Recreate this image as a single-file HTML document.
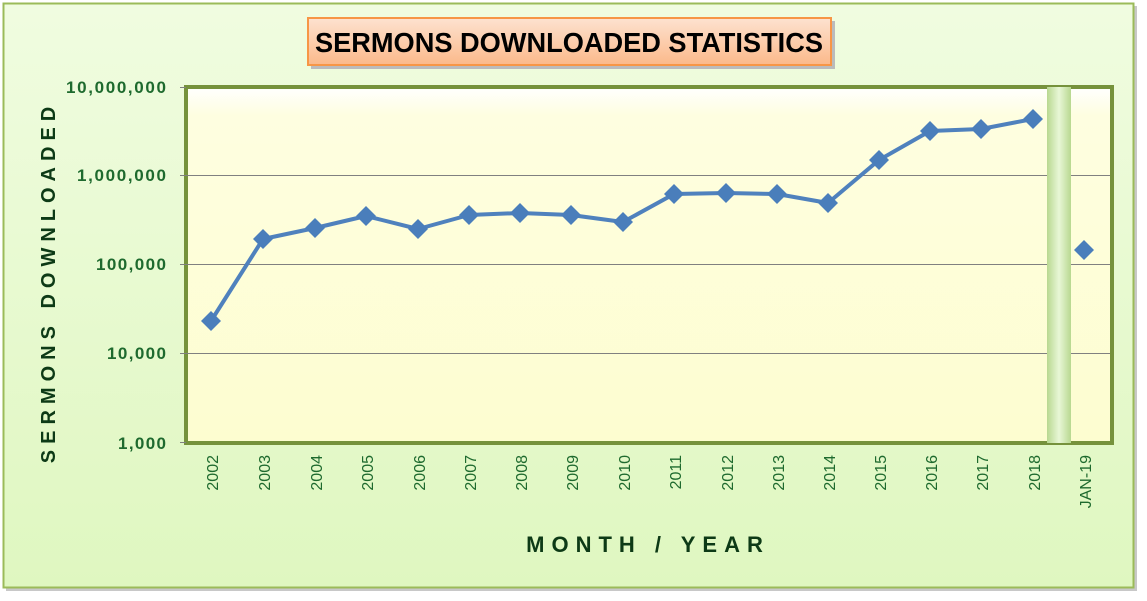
<!DOCTYPE html>
<html><head><style>
body{margin:0;width:1147px;height:596px;background:#fff;overflow:hidden;font-family:"Liberation Sans",sans-serif}
</style></head><body>
<svg width="1147" height="596" xmlns="http://www.w3.org/2000/svg">
<defs>
<linearGradient id="bg" x1="0" y1="0" x2="0" y2="1"><stop offset="0" stop-color="#f0fce0"/><stop offset="1" stop-color="#dff7c0"/></linearGradient>
<linearGradient id="pl" x1="0" y1="0" x2="0" y2="1"><stop offset="0" stop-color="#ffffff"/><stop offset="0.08" stop-color="#fefee0"/><stop offset="1" stop-color="#fdfdd0"/></linearGradient>
<linearGradient id="tt" x1="0" y1="0" x2="0" y2="1"><stop offset="0" stop-color="#fde2d0"/><stop offset="1" stop-color="#fbb98a"/></linearGradient>
<linearGradient id="sep" x1="0" y1="0" x2="1" y2="0"><stop offset="0" stop-color="#b8d890"/><stop offset="0.5" stop-color="#e8f7d6"/><stop offset="1" stop-color="#b8d890"/></linearGradient>
</defs>
<rect x="6" y="6" width="1131" height="585" fill="#c8c8c8"/>
<rect x="3.5" y="3.5" width="1130" height="584" fill="url(#bg)" stroke="#9bbb59" stroke-width="2"/>
<rect x="186" y="87" width="926" height="356" fill="url(#pl)" stroke="#76923c" stroke-width="4"/>
<g stroke="#808080" stroke-width="1">
<line x1="180" y1="175.5" x2="1110" y2="175.5"/><line x1="180" y1="264.5" x2="1110" y2="264.5"/><line x1="180" y1="353.5" x2="1110" y2="353.5"/>
<line x1="180" y1="87.5" x2="186" y2="87.5"/><line x1="180" y1="442.5" x2="186" y2="442.5"/>
</g>
<rect x="1047" y="87" width="24" height="356" fill="url(#sep)"/>
<g font-size="17" font-weight="bold" fill="#1e6a2e" text-anchor="end">
<text x="166" y="93" textLength="100">10,000,000</text><text x="166" y="181" textLength="89">1,000,000</text><text x="166" y="270" textLength="70">100,000</text><text x="166" y="359" textLength="59">10,000</text><text x="166" y="449" textLength="48">1,000</text>
</g>
<polyline fill="none" stroke="#4f81bd" stroke-width="4" stroke-linejoin="round" points="211,321 263,239 315,228 366,216 418,229 469,215 520,213 571,215 623,222 674,194 726,193 777,194 828,203 879,160 930,131 981,129 1033,119"/>
<g fill="#4a7ebb">
<path d="M211 311l10 10-10 10-10-10z"/><path d="M263 229l10 10-10 10-10-10z"/><path d="M315 218l10 10-10 10-10-10z"/><path d="M366 206l10 10-10 10-10-10z"/><path d="M418 219l10 10-10 10-10-10z"/><path d="M469 205l10 10-10 10-10-10z"/><path d="M520 203l10 10-10 10-10-10z"/><path d="M571 205l10 10-10 10-10-10z"/><path d="M623 212l10 10-10 10-10-10z"/><path d="M674 184l10 10-10 10-10-10z"/><path d="M726 183l10 10-10 10-10-10z"/><path d="M777 184l10 10-10 10-10-10z"/><path d="M828 193l10 10-10 10-10-10z"/><path d="M879 150l10 10-10 10-10-10z"/><path d="M930 121l10 10-10 10-10-10z"/><path d="M981 119l10 10-10 10-10-10z"/><path d="M1033 109l10 10-10 10-10-10z"/><path d="M1084 240l10 10-10 10-10-10z"/>
</g>
<g font-size="16" fill="#1e6a2e" text-anchor="end">
<text transform="translate(218,455) rotate(-90)">2002</text><text transform="translate(270,455) rotate(-90)">2003</text><text transform="translate(322,455) rotate(-90)">2004</text><text transform="translate(373,455) rotate(-90)">2005</text><text transform="translate(425,455) rotate(-90)">2006</text><text transform="translate(476,455) rotate(-90)">2007</text><text transform="translate(527,455) rotate(-90)">2008</text><text transform="translate(578,455) rotate(-90)">2009</text><text transform="translate(630,455) rotate(-90)">2010</text><text transform="translate(681,455) rotate(-90)">2011</text><text transform="translate(733,455) rotate(-90)">2012</text><text transform="translate(784,455) rotate(-90)">2013</text><text transform="translate(835,455) rotate(-90)">2014</text><text transform="translate(886,455) rotate(-90)">2015</text><text transform="translate(937,455) rotate(-90)">2016</text><text transform="translate(988,455) rotate(-90)">2017</text><text transform="translate(1040,455) rotate(-90)">2018</text><text transform="translate(1091,455) rotate(-90)">JAN-19</text>
</g>
<rect x="311" y="21" width="524" height="48" fill="#bbb"/>
<rect x="308" y="18" width="523" height="47" fill="url(#tt)" stroke="#f79646" stroke-width="2"/>
<text x="569" y="52" font-size="28" font-weight="bold" text-anchor="middle" fill="#000" textLength="508" lengthAdjust="spacingAndGlyphs">SERMONS DOWNLOADED STATISTICS</text>
<text transform="translate(55,282) rotate(-90)" font-size="20" font-weight="bold" letter-spacing="6" text-anchor="middle" fill="#0d3a16">SERMONS DOWNLOADED</text>
<text x="648" y="552" font-size="22" font-weight="bold" letter-spacing="7" text-anchor="middle" fill="#0d3a16">MONTH / YEAR</text>
</svg>
</body></html>
